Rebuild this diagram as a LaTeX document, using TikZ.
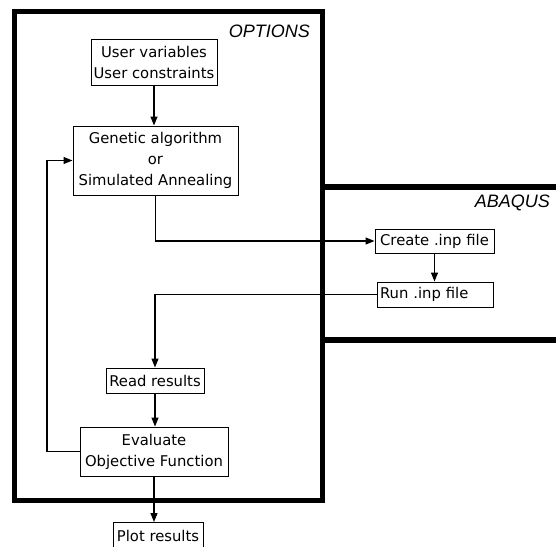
\documentclass[tikz,border=0pt]{standalone}
\usepackage{fontspec}
\setmainfont{DejaVu Sans}
\newfontfamily\labelfont{Liberation Sans}
\usetikzlibrary{arrows.meta}
\begin{document}
\begin{tikzpicture}[x=1pt,y=-1pt,
  box/.style={draw, line width=1pt, inner sep=0pt, align=center, font=\fontsize{14.8}{21}\selectfont},
  frame/.style={line width=5.5pt},
  arr/.style={line width=1.2pt, -{Triangle[length=9pt,width=7pt]}},
  region/.style={anchor=east, inner sep=0pt, font=\labelfont\itshape\fontsize{18}{20}\selectfont}]
\useasboundingbox (0,0) rectangle (556,546);
\clip (0,0) rectangle (556,546);
% frames
\draw[frame] (14.5,11.5) rectangle (322.5,500.5);
\draw[frame] (322.5,187) -- (560,187);
\draw[frame] (322.5,340) -- (560,340);
\node[region] (opt) at (310,31) {OPTIONS};
\node[region] (abq) at (550,203) {ABAQUS};
% nodes
\node[box, minimum width=126pt, minimum height=46pt] (uv) at (154,62) {User variables\\User constraints};
\node[box, minimum width=165pt, minimum height=69pt] (ga) at (155.5,160.5) {Genetic algorithm\\or\\Simulated Annealing};
\node[box, minimum width=119pt, minimum height=24pt] (cr) at (434.5,241) {Create .inp file};
\node[box, minimum width=116pt, minimum height=25pt, text width=110pt, align=left] (run) at (435,294.5) {Run .inp file};
\node[box, minimum width=98pt, minimum height=25pt] (rd) at (155,380.5) {Read results};
\node[box, minimum width=148pt, minimum height=49pt] (ev) at (154,451.5) {Evaluate\\Objective Function};
\node[box, minimum width=90pt, minimum height=26pt, anchor=north] (pl) at (158,522) {Plot results};
\coordinate (fb) at (47,0);
% connectors
\draw[arr] (uv.south) -- (uv.south |- ga.north);
\draw[arr] (ga.south) |- (cr.west);
\draw[arr] (cr.south) -- (cr.south |- run.north);
\draw[arr] (run.west) -| (rd.north);
\draw[arr] (rd.south) -- (rd.south |- ev.north);
\draw[arr] (ev.west) -- (ev.west -| fb) |- (ga.west);
\draw[arr] (ev.south) -- (ev.south |- pl.north);
\end{tikzpicture}
\end{document}
